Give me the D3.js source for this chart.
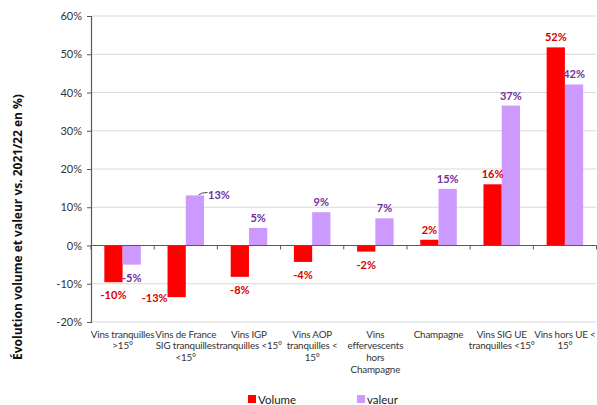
<!DOCTYPE html>
<html><head><meta charset="utf-8">
<script src="https://cdn.jsdelivr.net/npm/d3@7"></script>
<style>body{margin:0;background:#fff}svg{display:block}text{font-family:Lato,"Open Sans",sans-serif}</style>
</head><body><svg id="c" width="597" height="405"></svg>
<script>
const categories = [
  ["Vins tranquilles", ">15°"],
  ["Vins de France", "SIG tranquilles", "<15°"],
  ["Vins IGP", "tranquilles <15°"],
  ["Vins AOP", "tranquilles <", "15°"],
  ["Vins", "effervescents", "hors", "Champagne"],
  ["Champagne"],
  ["Vins SIG UE", "tranquilles <15°"],
  ["Vins hors UE <", "15°"]
];
const volume = [-9.6, -13.5, -8.2, -4.3, -1.6, 1.5, 16.0, 51.8];
const valeur = [-5.0, 13.1, 4.6, 8.7, 7.1, 14.8, 36.6, 42.1];
const volumeLabels = ["-10%", "-13%", "-8%", "-4%", "-2%", "2%", "16%", "52%"];
const valeurLabels = ["-5%", "13%", "5%", "9%", "7%", "15%", "37%", "42%"];
const yTicks = [-20, -10, 0, 10, 20, 30, 40, 50, 60];
const seriesNames = ["Volume", "valeur"];
const colors = {Volume: "#FF0000", valeur: "#CC99FF"};
const labelColors = {Volume: "#D40000", valeur: "#7030A0"};

const svg = d3.select("#c");
const L = 91, R = 596.5, T = 16, B = 322;
const ids = categories.map((c, i) => "c" + i);
const x = d3.scaleBand().domain(ids).range([L, R]).padding(0);
const xs = d3.scaleBand().domain(seriesNames).range([0, x.bandwidth()]).paddingInner(0).paddingOuter(0.73);
const y = d3.scaleLinear().domain([-20, 60]).range([B, T]);

// gridlines
svg.append("g").selectAll("line").data(yTicks.filter(t => t !== 0)).join("line")
  .attr("x1", L).attr("x2", R).attr("y1", d => y(d)).attr("y2", d => y(d))
  .attr("stroke", "#D9D9D9").attr("stroke-width", 1);

// y axis
const yAxis = svg.append("g").attr("transform", `translate(${L},0)`)
  .call(d3.axisLeft(y).tickValues(yTicks).tickSize(4).tickPadding(5).tickFormat(d => d + "%"));
yAxis.select(".domain").attr("stroke", "#595959").attr("stroke-width", 1.2);
yAxis.selectAll(".tick line").attr("stroke", "#595959");
yAxis.selectAll(".tick text").attr("fill", "#333").attr("font-size", 11).style("font-family", "Lato, sans-serif");

// bars
const data = [];
categories.forEach((c, i) => {
  data.push({cat: ids[i], s: "Volume", v: volume[i], lab: volumeLabels[i], i});
  data.push({cat: ids[i], s: "valeur", v: valeur[i], lab: valeurLabels[i], i});
});
svg.append("g").selectAll("rect").data(data).join("rect")
  .attr("x", d => x(d.cat) + xs(d.s))
  .attr("width", xs.bandwidth())
  .attr("y", d => y(Math.max(0, d.v)))
  .attr("height", d => Math.abs(y(d.v) - y(0)))
  .attr("fill", d => colors[d.s]);

// x axis at zero
const xAxis = svg.append("g").attr("transform", `translate(0,${y(0)})`);
xAxis.append("line").attr("x1", L).attr("x2", R).attr("stroke", "#595959").attr("stroke-width", 1.2);
xAxis.selectAll("line.tk").data(ids.map((d, i) => x(d)).concat([R])).join("line").attr("class", "tk")
  .attr("x1", d => d).attr("x2", d => d).attr("y1", 0).attr("y2", 4).attr("stroke", "#595959");

// category labels
const catG = svg.append("g");
categories.forEach((lines, i) => {
  const cx = x(ids[i]) + x.bandwidth() / 2;
  const t = catG.append("text").attr("x", cx).attr("y", 337.5)
    .attr("text-anchor", "middle").attr("font-size", 9.8).attr("letter-spacing", -0.15).attr("fill", "#333");
  lines.forEach((ln, j) => t.append("tspan").attr("x", cx).attr("dy", j ? 11.7 : 0).text(ln));
});

// value labels
svg.append("g").selectAll("text").data(data).join("text")
  .attr("x", d => x(d.cat) + xs(d.s) + xs.bandwidth() / 2 + (d.cat === "c1" && d.s === "Volume" ? -22 : 0))
  .attr("y", d => {
    if (d.cat === "c1" && d.s === "Volume") return y(d.v) + 4.5;
    return d.v >= 0 ? y(d.v) - 6 : y(d.v) + 17;
  })
  .attr("text-anchor", "middle").attr("font-size", 11).attr("font-weight", "bold")
  .attr("fill", d => labelColors[d.s]).text(d => d.lab)
  .filter(d => d.cat === "c1" && d.s === "valeur")
  .attr("text-anchor", "start")
  .attr("x", d => x(d.cat) + xs(d.s) + xs.bandwidth() + 4)
  .attr("y", d => y(d.v) + 4);

// leader line for 13%
{
  const bx = x("c1") + xs("valeur") + xs.bandwidth() * 0.7, by = y(valeur[1]);
  svg.append("path").attr("d", `M${bx},${by - 0.5} Q${bx + 3},${by - 3} ${bx + 9},${by - 3}`)
    .attr("fill", "none").attr("stroke", "#222").attr("stroke-width", 0.8);
}

// y title
svg.append("text").attr("transform", `translate(22,${(T + B) / 2 + 58}) rotate(-90)`)
  .attr("text-anchor", "middle").attr("font-size", 12).attr("font-weight", "bold").attr("fill", "#111")
  .style("font-family", "'Open Sans', sans-serif")
  .text("Évolution volume et valeur vs. 2021/22 en %)");

// legend
const lg = svg.append("g").attr("transform", "translate(248,399)");
seriesNames.forEach((s, i) => {
  const g = lg.append("g").attr("transform", `translate(${i * 109},0)`);
  g.append("rect").attr("x", 0).attr("y", -4).attr("width", 8).attr("height", 8).attr("fill", colors[s]);
  g.append("text").attr("x", 10).attr("y", 4.5).attr("font-size", 11.5).attr("fill", "#222").text(s);
});
</script></body></html>
